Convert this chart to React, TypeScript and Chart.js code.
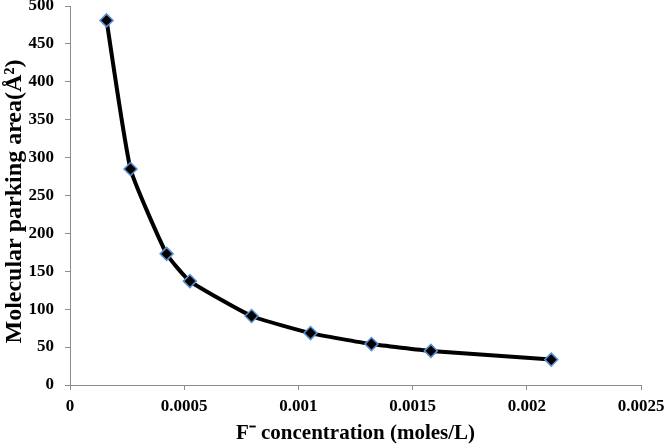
import React, { useEffect, useRef } from "react";
import { Chart, registerables } from "chart.js";

Chart.register(...registerables);

const concentration = [0.00016, 0.000265, 0.000423, 0.000525, 0.000795, 0.001053, 0.00132, 0.00158, 0.002107];
const parkingArea = [481, 285, 173, 137, 91, 68.5, 54, 45, 33.5];
const xTicks = [0, 0.0005, 0.001, 0.0015, 0.002, 0.0025];
const yTicks = [0, 50, 100, 150, 200, 250, 300, 350, 400, 450, 500];
const xTitle = "F\u207B concentration (moles/L)";
const yTitle = "Molecular parking area(\u00C5\u00B2)\u00A0\u00A0";

export default function App() {
  const ref = useRef<HTMLCanvasElement | null>(null);
  useEffect(() => {
    if (!ref.current) return;
    const font = "'Liberation Serif', 'Times New Roman', serif";
    const chart = new Chart(ref.current, {
      type: "scatter",
      data: {
        datasets: [
          {
            data: concentration.map((x, i) => ({ x, y: parkingArea[i] })),
            showLine: true,
            borderColor: "#000000",
            borderWidth: 4,
            tension: 0.15,
            pointStyle: "rectRot",
            pointRadius: 6.5,
            pointBackgroundColor: "#000000",
            pointBorderColor: "#5b8fd0",
            pointBorderWidth: 1.5,
          } as any,
        ],
      },
      options: {
        responsive: false,
        animation: false,
        layout: { autoPadding: false, padding: { top: 6, right: 25, left: 0, bottom: 0 } } as any,
        plugins: { legend: { display: false }, tooltip: { enabled: false } },
        scales: {
          x: {
            type: "linear",
            min: 0,
            max: 0.0025,
            afterBuildTicks: (s: any) => {
              s.ticks = xTicks.map((v) => ({ value: v }));
            },
            afterFit: (s: any) => {
              s.height = 61;
              s.paddingLeft = 0;
              s.paddingRight = 0;
            },
            grid: { drawOnChartArea: false, drawTicks: true, tickLength: 5, color: "#8c8c8c" },
            border: { color: "#8c8c8c", width: 1 },
            ticks: {
              color: "#000",
              font: { family: font, size: 17, weight: "bold" },
              padding: 6,
              maxRotation: 0,
              callback: (v: any) => String(v),
            },
            title: {
              display: true,
              text: xTitle,
              color: "#000",
              font: { family: font, size: 21, weight: "bold" },
              padding: { top: 0, bottom: 0 },
            },
          },
          y: {
            type: "linear",
            min: 0,
            max: 500,
            afterBuildTicks: (s: any) => {
              s.ticks = yTicks.map((v) => ({ value: v }));
            },
            afterFit: (s: any) => {
              s.width = 70;
              s.paddingTop = 0;
              s.paddingBottom = 0;
            },
            grid: { drawOnChartArea: false, drawTicks: true, tickLength: 5, color: "#8c8c8c" },
            border: { color: "#8c8c8c", width: 1 },
            ticks: {
              color: "#000",
              font: { family: font, size: 17, weight: "bold" },
              padding: 11,
              callback: (v: any) => String(v),
            },
            title: {
              display: true,
              text: yTitle,
              color: "#000",
              font: { family: font, size: 24, weight: "bold" },
              padding: { top: 0, bottom: 0 },
            },
          },
        },
      },
    });
    return () => chart.destroy();
  }, []);
  return (
    <div style={{ position: "fixed", left: 0, top: 0, width: 666, height: 446, background: "#fff" }}>
      <canvas ref={ref} width={666} height={446} />
    </div>
  );
}
